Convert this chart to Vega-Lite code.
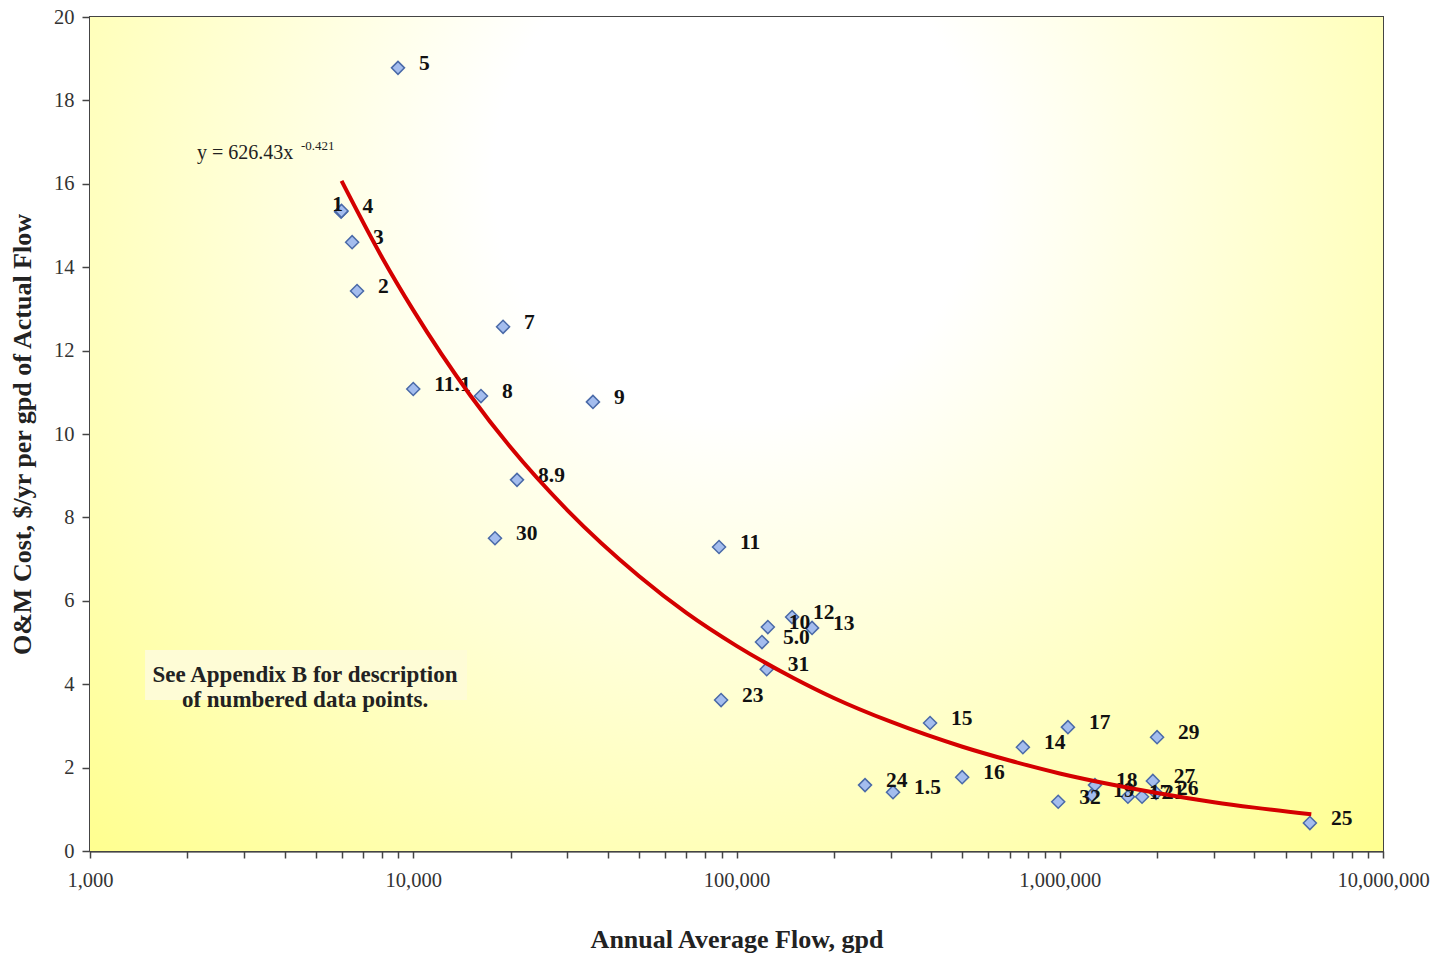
{
  "$schema": "https://vega.github.io/schema/vega-lite/v6.json",
  "width": 1293,
  "height": 834,
  "autosize": {"type": "none"},
  "padding": {"left": 90, "top": 17, "right": 58, "bottom": 108},
  "background": "#ffffff",
  "config": {
    "font": "Liberation Serif",
    "view": {"stroke": "#444444", "strokeWidth": 2},
    "axis": {
      "labelFont": "Liberation Serif",
      "titleFont": "Liberation Serif",
      "labelColor": "#333333",
      "titleColor": "#222222",
      "labelFontSize": 20.5,
      "titleFontSize": 26,
      "titleFontWeight": "bold",
      "tickColor": "#444444",
      "domainColor": "#444444",
      "domainWidth": 2,
      "tickWidth": 1.5
    }
  },
  "datasets": {
    "pts": [
      {"id": "1", "flow": 5980, "cost": 15.33},
      {"id": "4", "flow": 6000, "cost": 15.35},
      {"id": "3", "flow": 6470, "cost": 14.6},
      {"id": "2", "flow": 6700, "cost": 13.43},
      {"id": "5", "flow": 8970, "cost": 18.78},
      {"id": "7", "flow": 18960, "cost": 12.57},
      {"id": "11.1", "flow": 10000, "cost": 11.08},
      {"id": "8", "flow": 16200, "cost": 10.91},
      {"id": "9", "flow": 35970, "cost": 10.77},
      {"id": "8.9", "flow": 20940, "cost": 8.9},
      {"id": "30", "flow": 17900, "cost": 7.5},
      {"id": "11", "flow": 88300, "cost": 7.29},
      {"id": "10", "flow": 125000, "cost": 5.37},
      {"id": "12", "flow": 148600, "cost": 5.61},
      {"id": "13", "flow": 171300, "cost": 5.35},
      {"id": "5.0", "flow": 119900, "cost": 5.01},
      {"id": "31", "flow": 124000, "cost": 4.36},
      {"id": "23", "flow": 89600, "cost": 3.62},
      {"id": "15", "flow": 397000, "cost": 3.07},
      {"id": "24", "flow": 249800, "cost": 1.58},
      {"id": "1.5", "flow": 304900, "cost": 1.41},
      {"id": "16", "flow": 499000, "cost": 1.77},
      {"id": "14", "flow": 769000, "cost": 2.49},
      {"id": "17", "flow": 1060000, "cost": 2.97},
      {"id": "29", "flow": 2000000, "cost": 2.73},
      {"id": "32", "flow": 989000, "cost": 1.18},
      {"id": "18", "flow": 1285000, "cost": 1.58},
      {"id": "19", "flow": 1258000, "cost": 1.34},
      {"id": "17", "flow": 1625000, "cost": 1.3},
      {"id": "21", "flow": 1797000, "cost": 1.3},
      {"id": "27", "flow": 1941000, "cost": 1.68},
      {"id": "26", "flow": 1986000, "cost": 1.39},
      {"id": "25", "flow": 5940000, "cost": 0.67}
    ],
    "trend": [
      {"flow": 6000, "fit": 16.07},
      {"flow": 8000, "fit": 14.24},
      {"flow": 10000, "fit": 12.97},
      {"flow": 15000, "fit": 10.93},
      {"flow": 20000, "fit": 9.68},
      {"flow": 30000, "fit": 8.17},
      {"flow": 50000, "fit": 6.59},
      {"flow": 70000, "fit": 5.71},
      {"flow": 100000, "fit": 4.92},
      {"flow": 150000, "fit": 4.15},
      {"flow": 200000, "fit": 3.67},
      {"flow": 300000, "fit": 3.1},
      {"flow": 500000, "fit": 2.5},
      {"flow": 700000, "fit": 2.17},
      {"flow": 1000000, "fit": 1.86},
      {"flow": 1500000, "fit": 1.57},
      {"flow": 2000000, "fit": 1.39},
      {"flow": 3000000, "fit": 1.17},
      {"flow": 4000000, "fit": 1.04},
      {"flow": 6000000, "fit": 0.88}
    ]
  },
  "layer": [
    {
      "data": {"values": [{}]},
      "mark": {
        "type": "rect",
        "color": {
          "gradient": "radial",
          "x1": 0.5, "y1": 0.3, "r1": 0,
          "x2": 0.5, "y2": 0.3, "r2": 0.75,
          "stops": [
            {"offset": 0, "color": "#ffffff"},
            {"offset": 0.25, "color": "#ffffff"},
            {"offset": 1, "color": "#ffff8a"}
          ]
        }
      },
      "encoding": {}
    },
    {
      "data": {"name": "pts"},
      "mark": {"type": "point", "shape": "diamond", "filled": true, "size": 170, "fill": "#a4bdee", "stroke": "#4a6aa8", "strokeWidth": 1.5, "opacity": 1},
      "encoding": {
        "x": {
          "field": "flow", "type": "quantitative",
          "scale": {"type": "log", "domain": [1000, 10000000]},
          "axis": {
            "title": "Annual Average Flow, gpd",
            "grid": false,
            "values": [1000,2000,3000,4000,5000,6000,7000,8000,9000,10000,20000,30000,40000,50000,60000,70000,80000,90000,100000,200000,300000,400000,500000,600000,700000,800000,900000,1000000,2000000,3000000,4000000,5000000,6000000,7000000,8000000,9000000,10000000],
            "labelExpr": "indexof([1000,10000,100000,1000000,10000000], datum.value) >= 0 ? format(datum.value, ',') : ''",
            "tickSize": 7,
            "labelPadding": 12,
            "titlePadding": 36,
            "labelOverlap": false,
            "labelFlush": false
          }
        },
        "y": {
          "field": "cost", "type": "quantitative",
          "scale": {"domain": [0, 20], "nice": false},
          "axis": {
            "title": "O&M Cost, $/yr per gpd of Actual Flow",
            "values": [0,2,4,6,8,10,12,14,16,18,20],
            "grid": true,
            "gridColor": "#444444",
            "gridWidth": 1.5,
            "gridOpacity": 1,
            "tickSize": 8,
            "labelPadding": 8,
            "titlePadding": 18
          }
        }
      }
    },
    {
      "data": {"name": "pts"},
      "transform": [{"filter": "datum.id !== '1'"}],
      "mark": {"type": "text", "align": "left", "baseline": "middle", "dx": 21, "dy": -4, "font": "Liberation Serif", "fontWeight": "bold", "fontSize": 21.5, "color": "#111111"},
      "encoding": {
        "x": {"field": "flow", "type": "quantitative"},
        "y": {"field": "cost", "type": "quantitative"},
        "text": {"field": "id"}
      }
    },
    {
      "data": {"name": "pts"},
      "transform": [{"filter": "datum.id === '1'"}],
      "mark": {"type": "text", "align": "right", "baseline": "middle", "dx": 2, "dy": -7, "font": "Liberation Serif", "fontWeight": "bold", "fontSize": 21.5, "color": "#111111"},
      "encoding": {
        "x": {"field": "flow", "type": "quantitative"},
        "y": {"field": "cost", "type": "quantitative"},
        "text": {"field": "id"}
      }
    },
    {
      "data": {"name": "trend"},
      "mark": {"type": "line", "color": "#d40000", "strokeWidth": 4, "interpolate": "monotone"},
      "encoding": {
        "x": {"field": "flow", "type": "quantitative"},
        "y": {"field": "fit", "type": "quantitative"}
      }
    },
    {
      "data": {"values": [{}]},
      "mark": {"type": "rect", "fill": "#fefcd6"},
      "encoding": {
        "x": {"datum": 1480, "type": "quantitative"},
        "x2": {"datum": 14660},
        "y": {"datum": 4.82, "type": "quantitative"},
        "y2": {"datum": 3.62}
      }
    },
    {
      "data": {"values": [{}]},
      "mark": {"type": "text", "align": "center", "baseline": "middle", "font": "Liberation Serif", "fontWeight": "bold", "fontSize": 23, "color": "#222222", "lineHeight": 25, "text": ["See Appendix B for description", "of numbered data points."]},
      "encoding": {
        "x": {"datum": 4626, "type": "quantitative"},
        "y": {"datum": 4.21, "type": "quantitative"}
      }
    },
    {
      "data": {"values": [{}]},
      "mark": {"type": "text", "align": "left", "baseline": "middle", "font": "Liberation Serif", "fontSize": 20, "color": "#222222", "text": "y = 626.43x"},
      "encoding": {
        "x": {"datum": 2143, "type": "quantitative"},
        "y": {"datum": 16.74, "type": "quantitative"}
      }
    },
    {
      "data": {"values": [{}]},
      "mark": {"type": "text", "align": "left", "baseline": "middle", "font": "Liberation Serif", "fontSize": 13, "color": "#222222", "dx": 104, "dy": -7, "text": "-0.421"},
      "encoding": {
        "x": {"datum": 2143, "type": "quantitative"},
        "y": {"datum": 16.74, "type": "quantitative"}
      }
    }
  ]
}
